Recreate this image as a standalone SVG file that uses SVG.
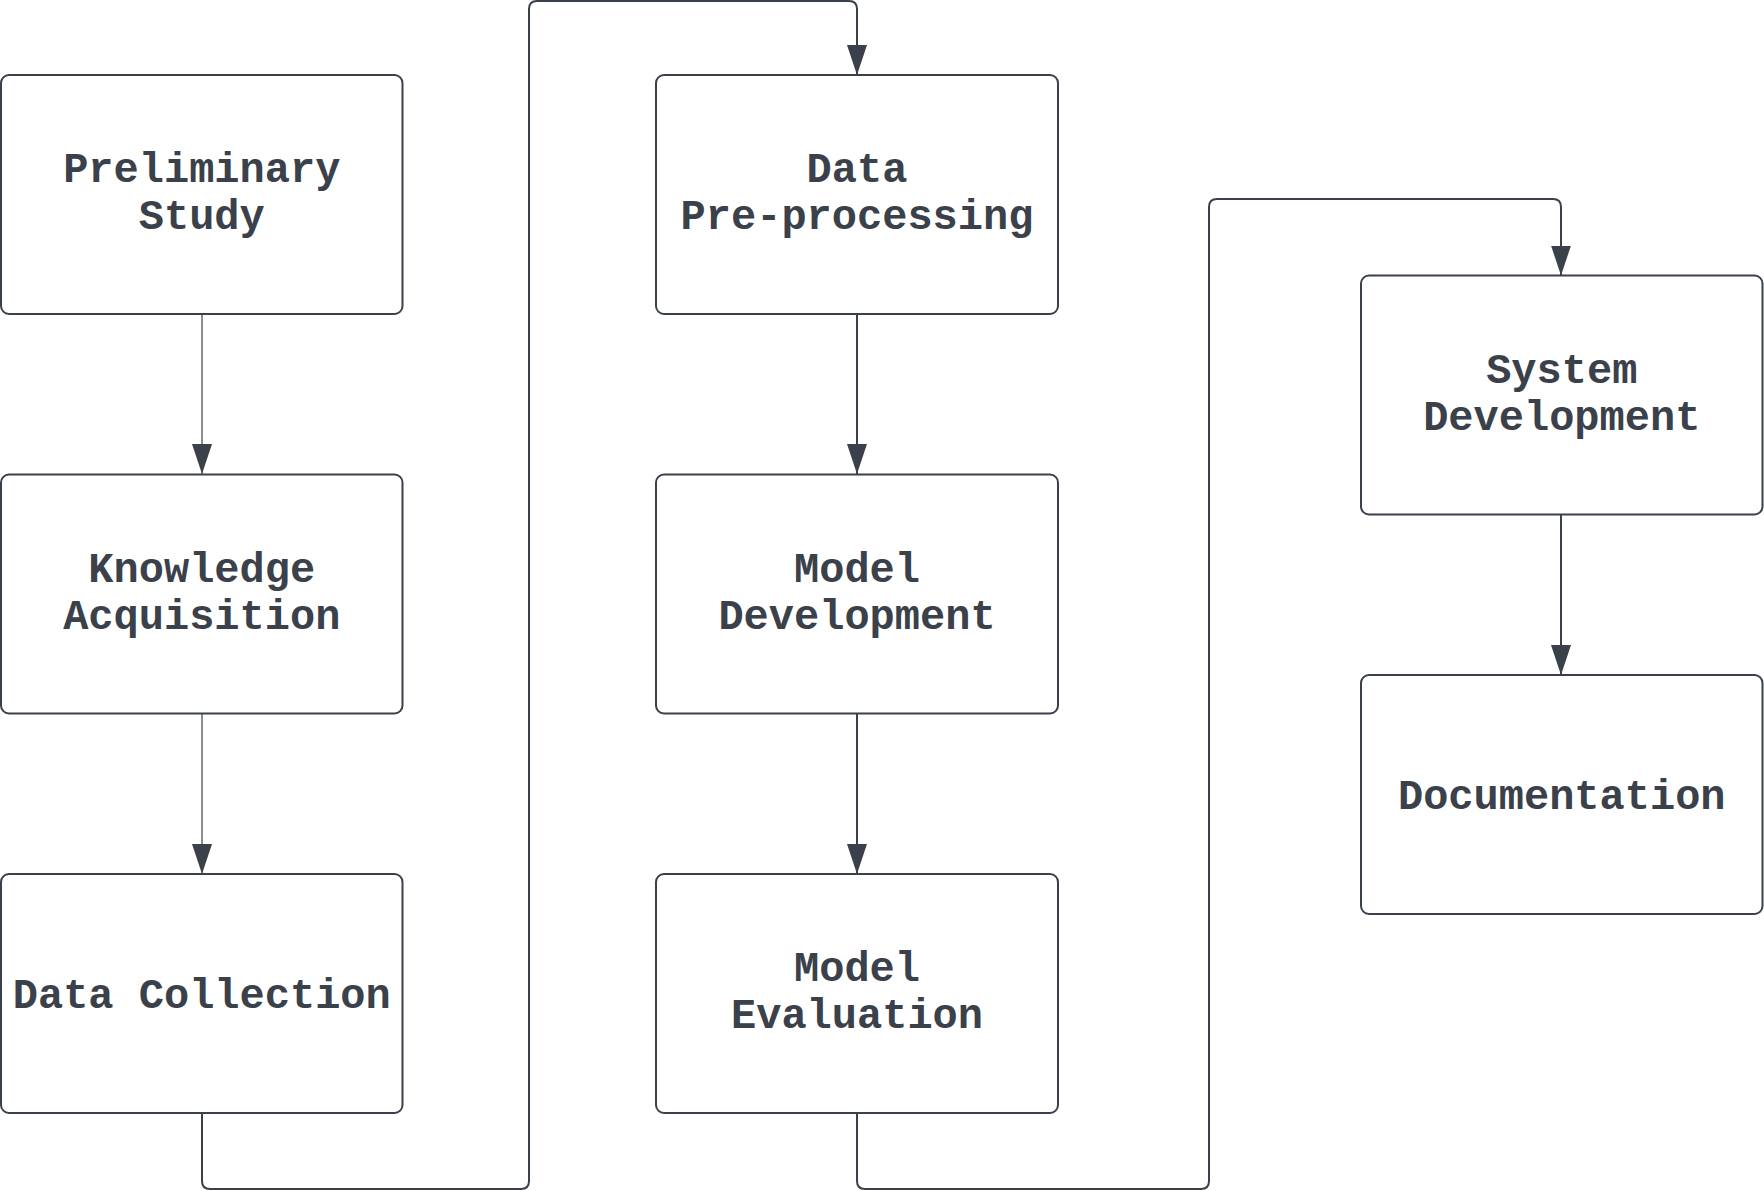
<svg xmlns="http://www.w3.org/2000/svg" width="1764" height="1191" viewBox="0 0 1764 1191">
  <style>
    .box { fill: #ffffff; stroke: #3a414a; stroke-width: 2; }
    .lbl { font-family: "Liberation Mono", "DejaVu Sans Mono", monospace; font-weight: bold; font-size: 42px; fill: #3a414a; text-anchor: middle; }
    .edge { fill: none; stroke: #3a414a; stroke-width: 2; }
    .thin { stroke-width: 1.2; }
  </style>
  <defs>
    <marker id="arrow" markerUnits="userSpaceOnUse" viewBox="0 0 30 20" markerWidth="30" markerHeight="20" refX="30" refY="10" orient="auto">
      <path d="M0,0 L30,10 L0,20 Z" fill="#3a414a"/>
    </marker>
  </defs>
  <rect width="1764" height="1191" fill="#ffffff"/>

  <g id="connectors">
    <path class="edge thin" d="M202,314 V474" marker-end="url(#arrow)"/>
    <path class="edge thin" d="M202,713.5 V874" marker-end="url(#arrow)"/>
    <path class="edge" d="M202,1113 V1181 Q202,1189 210,1189 H521 Q529,1189 529,1181 V9 Q529,1 537,1 H849 Q857,1 857,9 V75" marker-end="url(#arrow)"/>
    <path class="edge" d="M857,314 V474" marker-end="url(#arrow)"/>
    <path class="edge" d="M857,713.5 V874" marker-end="url(#arrow)"/>
    <path class="edge" d="M857,1113 V1181 Q857,1189 865,1189 H1201 Q1209,1189 1209,1181 V207 Q1209,199 1217,199 H1553 Q1561,199 1561,207 V275.5" marker-end="url(#arrow)"/>
    <path class="edge" d="M1561,514.5 V675" marker-end="url(#arrow)"/>
  </g>

  <g id="preliminary-study">
    <rect class="box" x="1" y="75" width="401.5" height="239" rx="8"/>
    <text class="lbl" x="201.75" y="182">Preliminary</text>
    <text class="lbl" x="201.75" y="229">Study</text>
  </g>
  <g id="knowledge-acquisition">
    <rect class="box" x="1" y="474.5" width="401.5" height="239" rx="8"/>
    <text class="lbl" x="201.75" y="581.5">Knowledge</text>
    <text class="lbl" x="201.75" y="628.5">Acquisition</text>
  </g>
  <g id="data-collection">
    <rect class="box" x="1" y="874" width="401.5" height="239" rx="8"/>
    <text class="lbl" x="201.75" y="1008">Data Collection</text>
  </g>

  <g id="data-preprocessing">
    <rect class="box" x="656" y="75" width="402" height="239" rx="8"/>
    <text class="lbl" x="857" y="182">Data</text>
    <text class="lbl" x="857" y="229">Pre-processing</text>
  </g>
  <g id="model-development">
    <rect class="box" x="656" y="474.5" width="402" height="239" rx="8"/>
    <text class="lbl" x="857" y="581.5">Model</text>
    <text class="lbl" x="857" y="628.5">Development</text>
  </g>
  <g id="model-evaluation">
    <rect class="box" x="656" y="874" width="402" height="239" rx="8"/>
    <text class="lbl" x="857" y="981">Model</text>
    <text class="lbl" x="857" y="1028">Evaluation</text>
  </g>

  <g id="system-development">
    <rect class="box" x="1361" y="275.5" width="401.5" height="239" rx="8"/>
    <text class="lbl" x="1561.75" y="382.5">System</text>
    <text class="lbl" x="1561.75" y="429.5">Development</text>
  </g>
  <g id="documentation">
    <rect class="box" x="1361" y="675" width="401.5" height="239" rx="8"/>
    <text class="lbl" x="1561.75" y="809">Documentation</text>
  </g>
</svg>
